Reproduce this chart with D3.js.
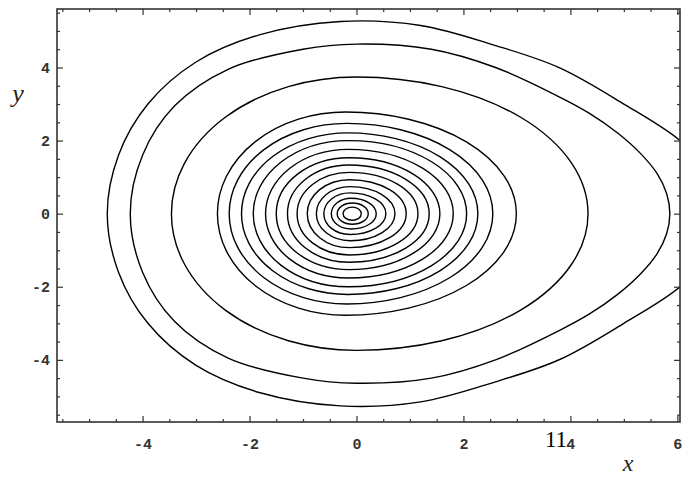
<!DOCTYPE html>
<html>
<head>
<meta charset="utf-8">
<script src="https://cdn.jsdelivr.net/npm/d3@7"></script>
<style>
  body { margin: 0; background: #fff; }
</style>
</head>
<body>
<div id="chart"></div>
<script>
// outer trajectories: upper half, [x, y], from left tip to right tip (lower half is the mirror)
var outerCurves = [
  [[-4.66, 0], [-4.45, 1.6], [-3.9, 3.0], [-3.0, 4.15], [-1.8, 4.9], [-0.3, 5.26], [1.2, 5.15],
   [2.6, 4.6], [3.8, 3.99], [5.0, 3.0], [6.05, 2.0], [6.54, 1.2], [6.81, 0]],
  [[-4.23, 0], [-4.0, 1.6], [-3.4, 2.95], [-2.4, 3.95], [-1.0, 4.5], [0, 4.64], [1.4, 4.5],
   [2.6, 4.0], [3.8, 3.19], [4.35, 2.75], [4.89, 2.2], [5.31, 1.65], [5.62, 1.1], [5.80, 0.55], [5.86, 0]]
];

// closed rings: left / right crossing of y = 0, top height and x where the top is
var ringLeft  = [-3.46, -2.60, -2.38, -2.15, -1.93, -1.70, -1.50, -1.29, -1.11, -0.92, -0.75, -0.61, -0.47, -0.36, -0.25];
var ringRight = [ 4.33,  2.99,  2.55,  2.27,  2.06,  1.81,  1.56,  1.36,  1.15,  0.93,  0.72,  0.55,  0.37,  0.22,  0.09];
var ringTop   = [ 3.74,  2.78,  2.47,  2.21,  2.00,  1.76,  1.53,  1.33,  1.13,  0.93,  0.74,  0.57,  0.42,  0.29,  0.18];
var ringTopX  = [ 0.00, -0.20, -0.18, -0.16, -0.15, -0.15, -0.14, -0.14, -0.13, -0.13, -0.12, -0.12, -0.10, -0.08, -0.08];

var xTicks = [-4, -2, 0, 2, 4, 6];
var yTicks = [-4, -2, 0, 2, 4];

var width = 684, height = 479;
var svg = d3.select("#chart").append("svg")
  .attr("width", width).attr("height", height);

var x = d3.scaleLinear().domain([-5.6, 6.05]).range([57, 680]);
var y = d3.scaleLinear().domain([-5.7, 5.6]).range([422, 9]);

svg.append("defs").append("clipPath").attr("id", "frame")
  .append("rect")
  .attr("x", x.range()[0]).attr("y", y.range()[1])
  .attr("width", x.range()[1] - x.range()[0])
  .attr("height", y.range()[0] - y.range()[1]);

var plot = svg.append("g").attr("clip-path", "url(#frame)");

// outer curves
var line = d3.line()
  .x(function(d) { return x(d[0]); })
  .y(function(d) { return y(d[1]); })
  .curve(d3.curveCatmullRomClosed);

plot.selectAll("path.outer")
  .data(outerCurves)
  .enter().append("path")
  .attr("class", "outer")
  .attr("d", function(c) {
    var lower = c.slice(1, -1).reverse().map(function(p) { return [p[0], -p[1]]; });
    return line(c.concat(lower));
  })
  .attr("fill", "none")
  .attr("stroke", "#000")
  .attr("stroke-width", 1.4);

// rings: two half ellipses joined at the top and bottom
plot.selectAll("path.ring")
  .data(d3.range(ringLeft.length))
  .enter().append("path")
  .attr("class", "ring")
  .attr("d", function(i) {
    var l = x(ringLeft[i]), r = x(ringRight[i]), c = x(ringTopX[i]);
    var t = y(ringTop[i]), b = y(-ringTop[i]), m = y(0);
    var ry = m - t, rl = c - l, rr = r - c;
    return "M" + l + "," + m +
      "A" + rl + "," + ry + " 0 0 1 " + c + "," + t +
      "A" + rr + "," + ry + " 0 0 1 " + r + "," + m +
      "A" + rr + "," + ry + " 0 0 1 " + c + "," + b +
      "A" + rl + "," + ry + " 0 0 1 " + l + "," + m + "Z";
  })
  .attr("fill", "none")
  .attr("stroke", "#000")
  .attr("stroke-width", 1.4);

// frame with inward ticks on every side
var xMinor = d3.range(-5.5, 6.01, 0.5).filter(function(v) { return xTicks.indexOf(v) < 0; });
var yMinor = d3.range(-5.5, 5.51, 0.5).filter(function(v) { return yTicks.indexOf(v) < 0; });

function frameAxis(g, axis, major, minor, pad) {
  g.append("g").call(axis.tickValues(minor).tickSize(-3).tickFormat(""));
  g.append("g").call(axis.tickValues(major).tickSize(-6).tickPadding(pad)
    .tickFormat(pad ? function(d) { return d < 0 ? "-" + (-d) : d; } : ""));
}

var gBottom = svg.append("g").attr("transform", "translate(0," + y.range()[0] + ")");
frameAxis(gBottom, d3.axisBottom(x).tickSizeOuter(0), xTicks, xMinor, 16);
var gTop = svg.append("g").attr("transform", "translate(0," + y.range()[1] + ")");
frameAxis(gTop, d3.axisTop(x).tickSizeOuter(0), xTicks, xMinor, 0);
var gLeft = svg.append("g").attr("transform", "translate(" + x.range()[0] + ",0)");
frameAxis(gLeft, d3.axisLeft(y).tickSizeOuter(0), yTicks, yMinor, 7);
var gRight = svg.append("g").attr("transform", "translate(" + x.range()[1] + ",0)");
frameAxis(gRight, d3.axisRight(y).tickSizeOuter(0), yTicks, yMinor, 0);

svg.selectAll(".domain").remove();
svg.selectAll(".tick line").attr("stroke", "#333").attr("stroke-width", 1.2);
svg.selectAll(".tick text")
  .attr("font-family", "Liberation Mono, DejaVu Sans Mono, monospace")
  .attr("font-size", 15)
  .attr("font-weight", "bold")
  .attr("fill", "#333");

svg.append("rect")
  .attr("x", x.range()[0]).attr("y", y.range()[1])
  .attr("width", x.range()[1] - x.range()[0])
  .attr("height", y.range()[0] - y.range()[1])
  .attr("fill", "none")
  .attr("stroke", "#333")
  .attr("stroke-width", 1.6);

// axis labels
svg.append("text")
  .attr("x", 18).attr("y", 102)
  .attr("text-anchor", "middle")
  .attr("font-family", "Liberation Serif, serif")
  .attr("font-style", "italic")
  .attr("font-size", 26)
  .attr("fill", "#222")
  .text("y");

svg.append("text")
  .attr("x", 628).attr("y", 471)
  .attr("text-anchor", "middle")
  .attr("font-family", "Liberation Serif, serif")
  .attr("font-style", "italic")
  .attr("font-size", 24)
  .attr("fill", "#222")
  .text("x");

svg.append("text")
  .attr("x", 556).attr("y", 447)
  .attr("text-anchor", "middle")
  .attr("font-family", "Liberation Serif, serif")
  .attr("font-size", 23)
  .attr("fill", "#000")
  .text("11");
</script>
</body>
</html>
